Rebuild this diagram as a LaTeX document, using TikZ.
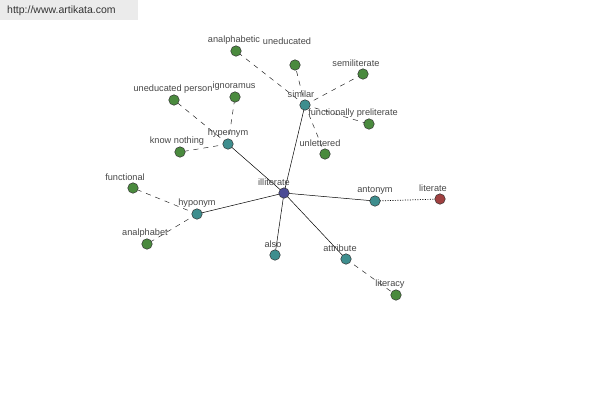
\documentclass[tikz,border=0pt]{standalone}
\usepackage{fontspec}
\setmainfont{Liberation Sans}
\begin{document}
\begin{tikzpicture}[x=1pt,y=-1pt,
  dot/.style={circle,draw=black!80,line width=0.5pt,minimum size=10.5pt,inner sep=0pt},
  cen/.style={dot,fill=cenc},
  rel/.style={dot,fill=relc},
  wrd/.style={dot,fill=wrdc},
  ant/.style={dot,fill=antc},
  lbl/.style={font=\fontsize{9.2}{10}\selectfont,text=black!72,inner sep=0pt},
  solidl/.style={draw=black,line width=0.5pt},
  dashl/.style={draw=black!85,line width=0.5pt,dash pattern=on 5pt off 5pt},
  dotl/.style={draw=black,line width=0.7pt,dash pattern=on 1pt off 1.5pt}]
\definecolor{cenc}{HTML}{4B4B95}
\definecolor{relc}{HTML}{3E8E8E}
\definecolor{wrdc}{HTML}{4A8A3E}
\definecolor{antc}{HTML}{A04040}
\useasboundingbox (0,0) rectangle (600,400);
\fill[black!8] (0,0) rectangle (138,20);
\node[lbl,anchor=west,font=\fontsize{10.5}{12}\selectfont,text=black!80] (url) at (7,11) {http://www.artikata.com};
% edges first
\coordinate (pIll) at (284,193);
\coordinate (pSim) at (305,105);
\coordinate (pHyper) at (228,144);
\coordinate (pHypo) at (197,214);
\coordinate (pAnt) at (375,201);
\coordinate (pAlso) at (275,255);
\coordinate (pAttr) at (346,259);
\coordinate (pLit) at (440,199);
\coordinate (pAnalphabetic) at (236,51);
\coordinate (pUned) at (295,65);
\coordinate (pSemi) at (363,74);
\coordinate (pFunc) at (369,124);
\coordinate (pUnlet) at (325,154);
\coordinate (pUnedP) at (174,100);
\coordinate (pIgn) at (235,97);
\coordinate (pKnow) at (180,152);
\coordinate (pFunctional) at (133,188);
\coordinate (pAnalphabet) at (147,244);
\coordinate (pLitc) at (396,295);
\draw[solidl] (pIll) -- (pSim);
\draw[solidl] (pIll) -- (pHyper);
\draw[solidl] (pIll) -- (pHypo);
\draw[solidl] (pIll) -- (pAnt);
\draw[solidl] (pIll) -- (pAlso);
\draw[solidl] (pIll) -- (pAttr);
\draw[dotl] (pAnt) -- (pLit);
\draw[dashl] (pSim) -- (pAnalphabetic);
\draw[dashl] (pSim) -- (pUned);
\draw[dashl] (pSim) -- (pSemi);
\draw[dashl] (pSim) -- (pFunc);
\draw[dashl] (pSim) -- (pUnlet);
\draw[dashl] (pHyper) -- (pUnedP);
\draw[dashl] (pHyper) -- (pIgn);
\draw[dashl] (pHyper) -- (pKnow);
\draw[dashl] (pHypo) -- (pFunctional);
\draw[dashl] (pHypo) -- (pAnalphabet);
\draw[dashl] (pAttr) -- (pLitc);
% nodes
\node[cen] (ill) at (pIll) {};
\node[rel] (sim) at (pSim) {};
\node[rel] (hyper) at (pHyper) {};
\node[rel] (hypo) at (pHypo) {};
\node[rel] (ant) at (pAnt) {};
\node[rel] (also) at (pAlso) {};
\node[rel] (attr) at (pAttr) {};
\node[ant] (lit) at (pLit) {};
\node[wrd] (analphabetic) at (pAnalphabetic) {};
\node[wrd] (uned) at (pUned) {};
\node[wrd] (semi) at (pSemi) {};
\node[wrd] (func) at (pFunc) {};
\node[wrd] (unlet) at (pUnlet) {};
\node[wrd] (unedp) at (pUnedP) {};
\node[wrd] (ign) at (pIgn) {};
\node[wrd] (know) at (pKnow) {};
\node[wrd] (functional) at (pFunctional) {};
\node[wrd] (analphabet) at (pAnalphabet) {};
\node[wrd] (litc) at (pLitc) {};
% labels
\node[lbl] (tIll) at (274,182) {illiterate};
\node[lbl] (tSim) at (301,94) {similar};
\node[lbl] (tHyper) at (228,133) {hypernym};
\node[lbl] (tHypo) at (197,203) {hyponym};
\node[lbl] (tAnt) at (375,190) {antonym};
\node[lbl] (tAlso) at (273,244) {also};
\node[lbl] (tAttr) at (340,248) {attribute};
\node[lbl] (tLit) at (433,188) {literate};
\node[lbl] (tAnalphabetic) at (234,40) {analphabetic};
\node[lbl] (tUned) at (287,41) {uneducated};
\node[lbl] (tSemi) at (356,63) {semiliterate};
\node[lbl] (tFunc) at (353,113) {functionally preliterate};
\node[lbl] (tUnlet) at (320,143) {unlettered};
\node[lbl] (tUnedP) at (173,89) {uneducated person};
\node[lbl] (tIgn) at (234,86) {ignoramus};
\node[lbl] (tKnow) at (177,141) {know nothing};
\node[lbl] (tFunctional) at (125,177) {functional};
\node[lbl] (tAnalphabet) at (145,233) {analphabet};
\node[lbl] (tLitc) at (390,284) {literacy};
\end{tikzpicture}
\end{document}
